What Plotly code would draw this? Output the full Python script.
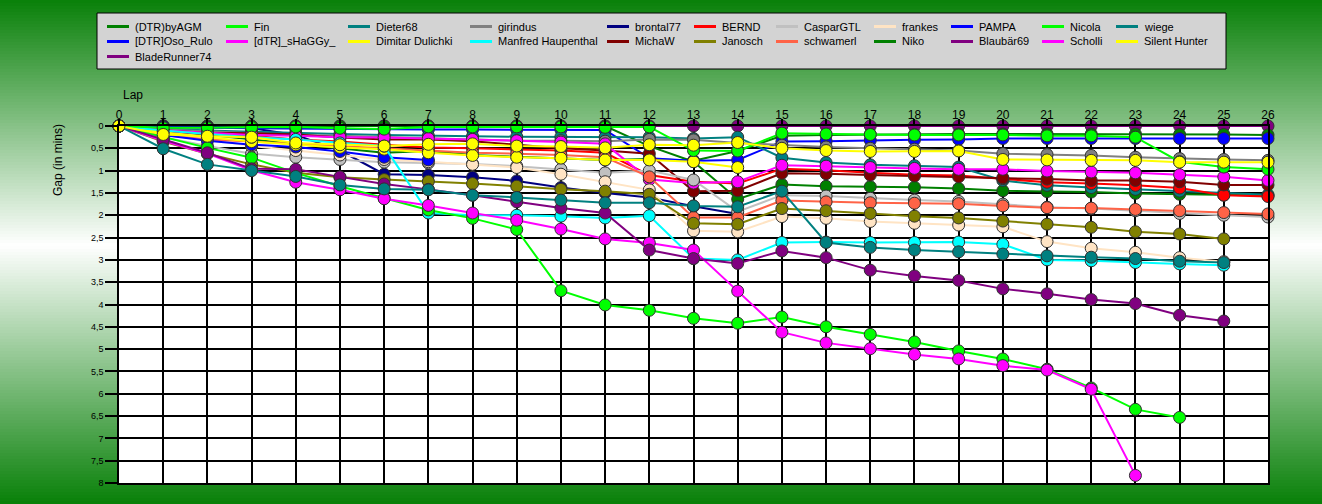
import plotly.graph_objects as go

# ---------------- data ----------------
LAPS = list(range(27))
N = None

dtr_byagm      = [0, 0.10, 0.20, 0.30, 0.40, 0.50, 0.60, 0.56, 0.65, 0.69, 0.72, 0.76, 0.74, 0.78, 0.56, 0.22, 0.20, 0.19, 0.19, 0.18, 0.18, 0.18, 0.18, 0.18, 0.19, 0.19, 0.20]
fin            = [0, 0.25, 0.49, 0.71, 1.05, 1.35, 1.62, 1.88, 2.07, 2.32, 3.69, 4.01, 4.13, 4.31, 4.42, 4.28, 4.50, 4.67, 4.84, 5.04, 5.22, 5.45, 5.87, 6.35, 6.53, N, N]
dieter68       = [0, 0.51, 0.86, 1.00, 1.13, 1.32, 1.41, 1.43, 1.55, 1.60, 1.66, 1.72, 1.72, 1.79, 1.81, 1.46, 2.61, 2.72, 2.78, 2.82, 2.87, 2.91, 2.94, 2.97, 3.03, 3.06, N]
girindus       = [0, 0.08, 0.12, 0.16, 0.20, 0.22, 0.25, 0.27, 0.30, 0.33, 0.33, 0.34, 0.30, 0.31, 0.38, 0.43, 0.47, 0.50, 0.52, 0.55, 0.62, 0.64, 0.66, 0.70, 0.73, 0.75, 0.77]
brontal77      = [0, 0.00, 0.02, 0.05, 0.20, 0.55, 1.08, 1.10, 1.15, 1.23, 1.38, 1.50, 1.60, 1.80, 1.97, N, N, N, N, N, N, N, N, N, N, N, N]
bernd          = [0, 0.12, 0.18, 0.22, 0.30, 0.35, 0.42, 0.48, 0.50, 0.52, 0.55, 0.60, 1.10, 1.25, 1.29, 0.96, 0.99, 1.05, 1.09, 1.11, 1.18, 1.26, 1.29, 1.33, 1.39, 1.55, 1.58]
caspargtl      = [0, 0.25, 0.45, 0.62, 0.70, 0.75, 0.81, 0.83, 0.85, 0.90, 0.97, 1.05, 1.00, 1.21, 1.92, 1.55, 1.57, 1.62, 1.66, 1.69, 1.75, 1.82, 1.85, 1.90, 1.96, 2.00, 2.04]
frankes        = [0, 0.15, 0.30, 0.45, 0.55, 0.65, 0.75, 0.80, 0.86, 0.93, 1.08, 1.25, 1.43, 2.35, 2.37, 2.03, 2.07, 2.14, 2.18, 2.22, 2.26, 2.59, 2.74, 2.83, 2.95, 3.04, N]
pampa          = [0, 0.03, 0.04, 0.05, 0.06, 0.07, 0.07, 0.08, 0.08, 0.08, 0.08, 0.09, 0.72, 0.78, 0.76, 0.35, 0.34, 0.32, 0.31, 0.30, 0.28, 0.28, 0.28, 0.28, 0.28, 0.28, 0.28]
nicola         = [0, 0.04, 0.04, 0.03, 0.02, 0.05, 0.07, 0.02, 0.02, 0.02, 0.02, 0.03, 0.02, 0.55, 0.56, 0.16, 0.18, 0.19, 0.20, 0.20, 0.20, 0.22, 0.22, 0.25, 0.80, 0.92, 0.97]
wiege          = [0, 0.05, 0.10, 0.13, 0.16, 0.18, 0.20, 0.22, 0.23, 0.24, 0.24, 0.25, 0.25, 0.28, 0.25, 0.71, 0.82, 0.87, 0.89, 0.92, 1.22, 1.33, 1.38, 1.42, 1.46, 1.50, 1.54]
dtr_oso_rulo   = [0, 0.20, 0.33, 0.42, 0.47, 0.57, 0.70, 0.76, N, N, N, N, N, N, N, N, N, N, N, N, N, N, N, N, N, N, N]
dtr_shaggy     = [0, 0.10, 0.15, 0.20, 0.22, 0.25, 0.26, 0.28, 0.30, 0.33, 0.36, 0.40, 1.20, 1.28, 1.25, 0.88, 0.90, 0.93, 0.95, 0.97, 0.97, 1.01, 1.03, 1.05, 1.09, 1.14, 1.22]
dimitar        = [0, 0.14, 0.25, 0.35, 0.42, 0.48, 0.52, 0.60, 0.66, 0.70, 0.72, 0.76, 0.76, 0.80, 0.93, N, N, N, N, N, N, N, N, N, N, N, N]
manfred        = [0, 0.10, 0.18, 0.25, 0.30, 0.38, 0.45, 1.95, 2.00, 2.00, 2.02, 2.06, 2.01, 2.97, 3.00, 2.61, 2.60, 2.61, 2.61, 2.60, 2.65, 3.00, 3.02, 3.06, 3.09, 3.12, N]
michaw         = [0, 0.10, 0.15, 0.16, 0.19, 0.26, 0.30, 0.30, 0.34, 0.42, 0.50, 0.55, 0.62, 1.46, 1.45, 1.06, 1.07, 1.10, 1.12, 1.14, 1.16, 1.19, 1.22, 1.22, 1.25, 1.32, 1.32]
janosch        = [0, 0.35, 0.62, 0.86, 1.05, 1.15, 1.20, 1.24, 1.29, 1.35, 1.42, 1.46, 1.53, 2.18, 2.20, 1.85, 1.90, 1.96, 2.02, 2.06, 2.13, 2.20, 2.27, 2.37, 2.42, 2.53, N]
schwamerl      = [0, 0.20, 0.30, 0.35, 0.40, 0.45, 0.50, 0.55, 0.60, 0.62, 0.65, 0.70, 1.14, 2.05, 2.05, 1.67, 1.70, 1.72, 1.73, 1.74, 1.79, 1.83, 1.84, 1.87, 1.90, 1.94, 1.97]
niko           = [0, 0.00, 0.00, 0.00, 0.00, 0.00, 0.00, 0.00, 0.00, 0.00, 0.00, 0.00, 0.45, 0.80, 1.64, 1.31, 1.35, 1.36, 1.37, 1.40, 1.45, 1.47, 1.48, 1.51, 1.53, 1.55, 1.56]
blaubaer69     = [0, 0.30, 0.60, 0.96, 0.97, 1.14, 1.30, 1.42, 1.55, 1.70, 1.84, 1.95, 2.78, 2.97, 3.08, 2.80, 2.95, 3.23, 3.36, 3.46, 3.65, 3.76, 3.89, 3.98, 4.24, 4.37, N]
scholli        = [0, 0.33, 0.62, 0.99, 1.26, 1.43, 1.63, 1.78, 1.95, 2.11, 2.31, 2.53, 2.62, 2.78, 3.70, 4.62, 4.86, 4.99, 5.12, 5.22, 5.37, 5.47, 5.90, 7.83, N, N, N]
silent_hunter  = [0, 0.19, 0.23, 0.25, 0.38, 0.42, 0.45, 0.41, 0.40, 0.45, 0.46, 0.49, 0.42, 0.43, 0.37, 0.50, 0.55, 0.57, 0.57, 0.56, 0.75, 0.76, 0.77, 0.77, 0.81, 0.81, 0.81]
bladerunner74  = [0] * 27

Y_TICKS = [i * 0.5 for i in range(17)]

# legend order (row-major, 11 columns)
LEGEND_NAMES = [
    "(DTR)byAGM", "Fin", "Dieter68", "girindus", "brontal77", "BERND", "CasparGTL", "frankes", "PAMPA", "Nicola", "wiege",
    "[DTR]Oso_Rulo", "[dTR]_sHaGGy_", "Dimitar Dulichki", "Manfred Haupenthal", "MichaW", "Janosch", "schwamerl", "Niko", "Blaubär69", "Scholli", "Silent Hunter",
    "BladeRunner74",
]

SERIES = {
    "(DTR)byAGM": dtr_byagm, "Fin": fin, "Dieter68": dieter68, "girindus": girindus,
    "brontal77": brontal77, "BERND": bernd, "CasparGTL": caspargtl, "frankes": frankes,
    "PAMPA": pampa, "Nicola": nicola, "wiege": wiege, "[DTR]Oso_Rulo": dtr_oso_rulo,
    "[dTR]_sHaGGy_": dtr_shaggy, "Dimitar Dulichki": dimitar, "Manfred Haupenthal": manfred,
    "MichaW": michaw, "Janosch": janosch, "schwamerl": schwamerl, "Niko": niko,
    "Blaubär69": blaubaer69, "Scholli": scholli, "Silent Hunter": silent_hunter,
    "BladeRunner74": bladerunner74,
}

# ---------------- styles ----------------
COLORS = {
    "(DTR)byAGM": "#008000", "Fin": "#00ff00", "Dieter68": "#008080", "girindus": "#808080",
    "brontal77": "#000080", "BERND": "#ff0000", "CasparGTL": "#c0c0c0", "frankes": "#ffe4c4",
    "PAMPA": "#0000ff", "Nicola": "#00ff00", "wiege": "#008080", "[DTR]Oso_Rulo": "#0000ff",
    "[dTR]_sHaGGy_": "#ff00ff", "Dimitar Dulichki": "#ffff00", "Manfred Haupenthal": "#00ffff",
    "MichaW": "#800000", "Janosch": "#808000", "schwamerl": "#ff6347", "Niko": "#008000",
    "Blaubär69": "#800080", "Scholli": "#ff00ff", "Silent Hunter": "#ffff00",
    "BladeRunner74": "#800080",
}

DRAW_ORDER = [
    "BladeRunner74", "Niko", "brontal77", "(DTR)byAGM", "PAMPA", "wiege", "girindus", "BERND",
    "MichaW", "[dTR]_sHaGGy_", "CasparGTL", "frankes", "schwamerl", "Janosch", "[DTR]Oso_Rulo",
    "Dimitar Dulichki", "Manfred Haupenthal", "Fin", "Scholli", "Blaubär69", "Dieter68",
    "Nicola", "Silent Hunter",
]

W, H = 1322, 504
PL, PR, PT, PB = 119, 1268, 126, 483
FONT = "Liberation Sans, Arial, sans-serif"


def fx(x):
    return (x - PL) / (PR - PL)


def fy(y):
    return (PB - y) / (PB - PT)


fig = go.Figure()
for name in DRAW_ORDER:
    fig.add_trace(go.Scatter(
        x=LAPS, y=SERIES[name], name=name, mode="lines+markers",
        line=dict(color=COLORS[name], width=2),
        marker=dict(size=12, color=COLORS[name], line=dict(color="#303030", width=1)),
        cliponaxis=False, showlegend=False, connectgaps=False,
    ))

shapes = []
# vertical gradient background: green -> white -> green
GREEN = (8, 128, 8)
MID = 245
step = 3
for y0 in range(0, H, step):
    yc = y0 + step / 2
    if yc <= MID:
        t = yc / MID
    else:
        t = 1 - (yc - MID) / (H - MID)
    t = max(0.0, min(1.0, t))
    c = tuple(int(round(g + t * (255 - g))) for g in GREEN)
    shapes.append(dict(type="rect", xref="paper", yref="paper", layer="below",
                       x0=fx(0), x1=fx(W), y0=fy(y0 + step + 0.5), y1=fy(y0),
                       fillcolor="rgb(%d,%d,%d)" % c, line=dict(width=0)))
# white plotting area
shapes.append(dict(type="rect", xref="paper", yref="paper", layer="below",
                   x0=0, x1=1, y0=0, y1=1, fillcolor="white", line=dict(width=0)))

# custom legend
LEG_BOX = (97, 13, 1226, 69)
shapes.append(dict(type="rect", xref="paper", yref="paper", layer="above",
                   x0=fx(LEG_BOX[0]), x1=fx(LEG_BOX[2]), y0=fy(LEG_BOX[3]), y1=fy(LEG_BOX[1]),
                   fillcolor="#d3d3d3", line=dict(color="black", width=1)))
COL_X = [107, 226, 348, 470, 607, 694, 776, 874, 951, 1042, 1116]
ROW_Y = [26.5, 41.5, 56.5]
annotations = []
for i, name in enumerate(LEGEND_NAMES):
    r, c = divmod(i, 11)
    x0 = COL_X[c]
    yy = ROW_Y[r]
    shapes.append(dict(type="line", xref="paper", yref="paper", layer="above",
                       x0=fx(x0), x1=fx(x0 + 22), y0=fy(yy), y1=fy(yy),
                       line=dict(color=COLORS[name], width=3)))
    annotations.append(dict(xref="paper", yref="paper", x=fx(x0 + 26), y=fy(yy),
                            text=name, showarrow=False, xanchor="left", yanchor="middle",
                            font=dict(family=FONT, size=11, color="black")))

annotations.append(dict(xref="paper", yref="paper", x=fx(121), y=fy(95), text="Lap",
                        showarrow=False, xanchor="left", yanchor="middle",
                        font=dict(family=FONT, size=12, color="black")))
annotations.append(dict(xref="paper", yref="paper", x=fx(58), y=fy(160), text="Gap (in mins)",
                        showarrow=False, textangle=-90, xanchor="center", yanchor="middle",
                        font=dict(family=FONT, size=12, color="black")))

fig.update_layout(
    width=W, height=H, autosize=False,
    margin=dict(l=PL, r=W - PR, t=PT, b=H - PB, pad=0),
    paper_bgcolor="#088008", plot_bgcolor="white",
    separators=",.",
    font=dict(family=FONT, color="black"),
    shapes=shapes, annotations=annotations, showlegend=False,
    xaxis=dict(range=[0, 26], side="top", dtick=1, tick0=0, showgrid=True,
               gridcolor="black", gridwidth=1.5, zeroline=False,
               showline=True, linecolor="black", linewidth=1.5, mirror=True,
               ticks="outside", ticklen=5, tickwidth=1.5, tickcolor="black",
               ticklabelstandoff=-5,
               tickfont=dict(size=12, color="black")),
    yaxis=dict(range=[8, 0], tickvals=Y_TICKS, showgrid=True,
               gridcolor="black", gridwidth=1.5, zeroline=False,
               showline=True, linecolor="black", linewidth=1.5, mirror=True,
               ticks="outside", ticklen=12, tickwidth=1.5, tickcolor="black",
               tickfont=dict(size=9, color="black")),
)

fig.write_html("out.html")
